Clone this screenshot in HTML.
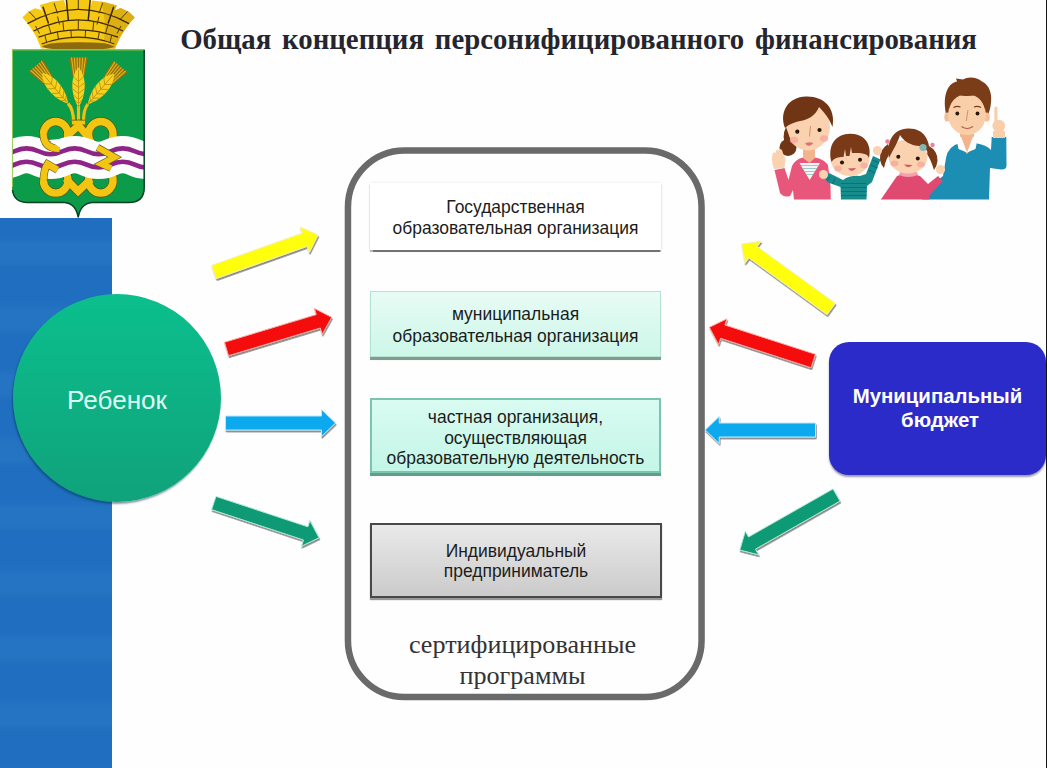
<!DOCTYPE html>
<html lang="ru">
<head>
<meta charset="utf-8">
<title>Общая концепция персонифицированного финансирования</title>
<style>
html,body{margin:0;padding:0;}
body{width:1047px;height:768px;position:relative;overflow:hidden;background:#fefefe;font-family:"Liberation Sans",sans-serif;}
.abs{position:absolute;}
#band{left:0;top:218px;width:112px;height:550px;background:repeating-linear-gradient(180deg,#1f6ebf 0,#1f6ebf 18px,#2573c3 26px,#2573c3 44px,#1f6ebf 52px,#1f6ebf 66px);}
#redge{left:1045.6px;top:0;width:1.4px;height:768px;background:#151515;}
#title{left:180.2px;top:21.6px;font-family:"Liberation Serif",serif;font-weight:bold;font-size:28.8px;word-spacing:3.6px;line-height:34px;color:#25252f;white-space:nowrap;}
#circle{left:13px;top:294px;width:208px;height:208px;border-radius:50%;background:linear-gradient(#0bbf8d,#10a27b);box-shadow:-1px 2px 2px rgba(0,60,80,.5);}
#circle span{position:absolute;left:0;right:0;top:90.7px;text-align:center;color:#ddfcf1;font-size:26.1px;line-height:30px;}
#big{left:0;top:0;}
.box{left:370px;width:291px;box-sizing:border-box;text-align:center;font-size:17.45px;line-height:20.5px;color:#1c1c1c;}
#b1{top:183px;height:66.8px;background:#fff;box-shadow:0 2.4px 1px rgba(70,70,70,.75), 0 0 3px rgba(0,0,0,.1);}
#b2{top:291px;height:66.4px;background:linear-gradient(#e7fbf5,#cdf7e8);border:1px solid #b3e3d1;box-shadow:0 3px .6px rgba(100,130,118,.8);}
#b3{top:398.2px;height:74.4px;background:linear-gradient(#d9fbf1,#c3f6e6);border:2px solid #7cc4b0;box-shadow:0 2.8px .6px rgba(70,140,120,.85);}
#b4{top:522.8px;height:75.4px;width:292px;background:linear-gradient(#e9e9e9,#cbcbcb);border:2px solid #484848;box-shadow:0 2px 1px rgba(0,0,0,.4);}
#cert{left:348px;top:630.4px;width:349px;text-align:center;font-family:"Liberation Serif",serif;font-size:26.1px;line-height:30.2px;color:#333;}
#budget{left:829px;top:342px;width:217px;height:133px;border-radius:20px;background:#2b2bc9;box-shadow:0 2px 2px rgba(0,0,60,.4);color:#fff;font-weight:bold;font-size:20.4px;line-height:24.2px;text-align:center;}
#budget span{position:absolute;left:0;right:0;top:42px;}
</style>
</head>
<body>
<div id="band" class="abs"></div>
<div id="redge" class="abs"></div>
<svg id="coat" class="abs" style="left:0;top:0" width="175" height="222" viewBox="0 0 175 222">
<defs>
<clipPath id="shc"><path d="M12,49.5H144.500V187Q144.500,202.500 129,202.500H92Q80.500,203.500 78.200,217.500Q76,203.500 64.500,202.500H27.500Q12,202.500 12,187Z"/></clipPath>
<g id="ear">
<path d="M-9.200,-62 L-6.200,-44 L6.200,-44 L9.200,-62 Z" fill="#96700f"/>
<path d="M-7,-62L-4.600,-44M-4.200,-62L-2.800,-44M-1.400,-62L-0.900,-44M1.400,-62L0.900,-44M4.200,-62L2.800,-44M7,-62L4.600,-44" stroke="#e2b71a" stroke-width="1.100" fill="none"/>
<path d="M0,-52C8,-44 8.500,-26 0,-12C-8.500,-26 -8,-44 0,-52Z" fill="#f7d21f"/>
<path d="M0,-50V-12M-5.500,-43L0,-38L5.500,-43M-6.400,-37L0,-32L6.400,-37M-6.400,-31L0,-26L6.400,-31M-5.400,-25L0,-20L5.400,-25M-3.600,-19.500L0,-16L3.600,-19.500" stroke="#c49512" stroke-width="0.900" fill="none"/>
</g>
</defs>
<!-- crown -->
<path d="M41.100,48.500 C38,40 34,30 22.400,17.400 L28,12 L35,8.200 L41,10 L42.800,14 L41.500,9.500 L39.800,5 L52,1.500 L64,0 L66,7 L66.500,-2 L89.500,-2 L90.500,7 L92,0.600 L104.500,2 L116.800,5.600 L115,10 L113.800,14 L116,10 L120.500,8 L129,12 L134.800,17.400 C123,30 118.500,40 115,48.500 Z" fill="#f5c813"/>
<path d="M101,1.600L116.800,5.600L115,10L116,10L120.500,8L129,12L134.800,17.400C123,30 118.500,40 115,48.500L102,48.500C106,36 106,18 101,1.600Z" fill="#dcb015"/>
<ellipse cx="78.200" cy="46.200" rx="36" ry="4" fill="#8d6a0e"/>
<path d="M41.700,44.800Q78.300,31.200 114.300,44.800" stroke="#eec015" stroke-width="2.600" fill="none"/>
<path d="M27.500,23.600Q78.300,-5 129,23.600M33.600,31Q78.300,8.800 123,31M38.600,37.200Q78.300,22.400 118,37.200M41.700,44Q78.300,30.400 114.300,44" stroke="#3f2a05" stroke-width="1.250" fill="none"/>
<path d="M42.900,6.800L48.500,23.600M113.700,6.800L108.100,23.600M66.400,0L68.400,20.500M90.200,0L88.200,20.500" stroke="#3a2604" stroke-width="1.500" fill="none"/>
<path d="M78.300,0V9.300M54,3L57.500,13.500M102.600,3L99,13.500M29,11.500L36,19M127.600,11.500L120.500,19M35.500,26L39.500,33.500M121,26L117,33.500M57.500,16.500L59.500,24.500M99,16.500L97,24.500M62.800,21L63.800,30.800M78.300,19.900V29.800M93.800,21L92.800,30.800M48.500,25L51,33.500M108,25L105.500,33.500M44.800,35L46.500,42M57.200,31.500L58.500,39M70.900,30L71.400,37.500M85.600,30L85.200,37.500M99.400,31.500L98,39M111.800,35L110,42" stroke="#553a08" stroke-width="1" fill="none"/>
<!-- shield -->
<path d="M12,49.500H144.500V187Q144.500,202.500 129,202.500H92Q80.500,203.500 78.200,217.500Q76,203.500 64.500,202.500H27.500Q12,202.500 12,187Z" fill="#0c9b48"/>
<g clip-path="url(#shc)">
<path d="M68,103.500Q73.600,109 73.600,123M88,104Q83.400,109 83.400,123M78.500,106V123" stroke="#efbf14" stroke-width="3.200" fill="none"/>
<use href="#ear" transform="translate(78.500,119.500)"/>
<use href="#ear" transform="translate(76,113) rotate(-40.300)"/>
<use href="#ear" transform="translate(80,113.500) rotate(40.600)"/>
<g fill="none" stroke="#4d5a16" stroke-width="8.800">
<ellipse cx="55.700" cy="134.500" rx="12.300" ry="13"/><ellipse cx="100.800" cy="134.500" rx="12.300" ry="13"/>
<ellipse cx="55.700" cy="180.300" rx="12.300" ry="12.800"/><ellipse cx="100.800" cy="180.300" rx="12.300" ry="12.800"/>
<path d="M66,137L78.500,125.500L89.500,138.500" stroke-linejoin="miter" stroke-miterlimit="2"/>
<path d="M72,122.500H85" stroke-width="5.400"/>
<path d="M65.500,178.500L78.100,191.300L91,179" stroke-linejoin="miter" stroke-miterlimit="6"/>
</g>
<g fill="none" stroke="#f4c413" stroke-width="7.400">
<ellipse cx="55.700" cy="134.500" rx="12.300" ry="13"/><ellipse cx="100.800" cy="134.500" rx="12.300" ry="13"/>
<ellipse cx="55.700" cy="180.300" rx="12.300" ry="12.800"/><ellipse cx="100.800" cy="180.300" rx="12.300" ry="12.800"/>
<path d="M66,137L78.500,125.500L89.500,138.500" stroke-linejoin="miter" stroke-miterlimit="2"/>
<path d="M72,122.500H85" stroke-width="4"/>
<path d="M65.500,178.500L78.100,191.300L91,179" stroke-linejoin="miter" stroke-miterlimit="6"/>
</g>
<g fill="none">
<path d="M-9.550,157.500Q2.500,163.300 14.500,157.500T38.550,157.500T62.600,157.500T86.650,157.500T110.700,157.500T134.750,157.500T158.800,157.500" stroke="#fdfdfd" stroke-width="37.200"/>
<path d="M-9.550,151.300Q2.500,157.100 14.500,151.300T38.550,151.300T62.600,151.300T86.650,151.300T110.700,151.300T134.750,151.300T158.800,151.300" stroke="#8f2488" stroke-width="4.600"/>
<path d="M-9.550,164.650Q2.500,170.450 14.500,164.650T38.550,164.650T62.600,164.650T86.650,164.650T110.700,164.650T134.750,164.650T158.800,164.650" stroke="#8f2488" stroke-width="4.600"/>
</g>
<g fill="none" stroke="#5a5a20" stroke-width="7.800">
<path d="M43.400,133 C43.400,143 48,148.500 59.500,148.800" />
<path d="M97.500,147.500L114.500,157.200L101.500,164L111,168.300" stroke-width="7.200"/>
<path d="M43.500,181 C43.500,174 44,169.500 47.500,164.200 L57.500,169.800" stroke-linejoin="miter"/>
</g>
<g fill="none" stroke="#f4c413" stroke-width="6.600">
<path d="M43.400,133 C43.400,143 48,148.500 59.500,148.800" />
<path d="M97.500,147.500L114.500,157.200L101.500,164L111,168.300" stroke-width="6"/>
<path d="M43.500,181 C43.500,174 44,169.500 47.500,164.200 L57.500,169.800" stroke-linejoin="miter"/>
</g>
<path d="M48.500,140L60,147.500L60,139Z" fill="#fdfdfd"/>
</g>
<path d="M12,49.800H144.500" stroke="#8cc63f" stroke-width="1.600" fill="none"/>
<path d="M12.400,49.500V187" stroke="#9aca5a" stroke-width="1" fill="none"/>
<path d="M144.200,50V187Q144.500,202.500 129,202.500H92Q80.500,203.500 78.200,217.500Q76,203.500 64.500,202.500H27.500Q14,202.500 12.500,190" stroke="#0a4023" stroke-width="1.500" fill="none"/>
</svg>
<svg id="family" class="abs" style="left:765px;top:70px" width="250" height="135" viewBox="765 70 250 135">
<defs><clipPath id="fc"><rect x="765" y="70" width="250" height="129.600"/></clipPath></defs>
<g clip-path="url(#fc)">
<!-- father -->
<path d="M922,200 L922.500,188 Q934,184 943,176 L946,158 Q948,146 960,143 L975,143 Q987,145 991,150 L991.700,137 L1006.300,137 L1006.500,166 Q1006,170 1001,169.500 L990,168 L989,200 Z" fill="#1c8db3"/>
<path d="M960,134 H974 V146 L967,154 L960,146 Z" fill="#f1b48c"/>
<path d="M956.500,139.500 L961,136.500 L967,152.500 L958.500,149 Z M977.500,139.500 L973,136.500 L967,152.500 L975.500,149 Z" fill="#fdfdfd"/>
<path d="M946.500,116 C942,97 947,83.500 957,81.500 L956,78.500 L963,79.500 C968,76 977,77 982,81.500 C991.500,86 994,99 988,116 Z" fill="#7b3d17"/>
<ellipse cx="947.300" cy="117" rx="3" ry="4.500" fill="#f3bf98"/><ellipse cx="986.800" cy="117" rx="3" ry="4.500" fill="#f3bf98"/>
<ellipse cx="967" cy="114.500" rx="19" ry="20.600" fill="#f8cfa9"/>
<path d="M948.300,113 C948.300,101 952,95 958,92.500 L976,92.500 C982,95 985.700,101 985.700,113 C984.500,105 981,99 976.500,95.300 C970,96.300 963,96.300 958,95 C953,98 949.800,104 948.300,113 Z" fill="#7b3d17"/>
<circle cx="957.300" cy="113.500" r="1.900" fill="#2a1608"/><circle cx="977.500" cy="113.500" r="1.900" fill="#2a1608"/>
<path d="M953.500,107.500Q957,105.500 960.500,107M974,107Q977.500,105.500 981,107.500" stroke="#7b3d17" stroke-width="1.100" fill="none"/>
<path d="M968,110 L966.300,121" stroke="#c98a62" stroke-width="0.900" fill="none"/>
<path d="M961.500,126.500 Q967,130.500 973,126.500" stroke="#b8583c" stroke-width="1.100" fill="none"/>
<circle cx="998.800" cy="126" r="6.300" fill="#f8cfa9"/><rect x="994.300" y="106.500" width="3.200" height="16" rx="1.600" fill="#f8cfa9"/>
<rect x="993" y="131" width="12" height="7" fill="#f8cfa9"/>
<!-- girl -->
<path d="M880.500,200 L897,176 Q908,171 920,176 L928,184 L938,176 L943,181 L929,196 L929.500,200 Z" fill="#e04a70"/>
<path d="M899,175 Q908,179 918,175 L917,172 H900 Z" fill="#f5a0b0"/>
<path d="M888,144 Q879,150 880,160 Q881,165 884,168 Q886,158 891,152 Z M929,146 Q938,151 937.500,161 Q937,166 934,170 Q931,160 927,154 Z" fill="#7a3a18"/>
<ellipse cx="908" cy="156.500" rx="19.500" ry="17" fill="#fad2b0"/>
<path d="M889,158 C886,142 893,129 908,128.500 C924,128 931,140 929.500,158 C928,150 925,147 920,146 C910,146 903,140 900,135 C898,142 893,150 889,158 Z" fill="#7a3a18"/>
<circle cx="898.300" cy="156.800" r="2" fill="#2a1608"/><circle cx="917.800" cy="158.500" r="2" fill="#2a1608"/>
<ellipse cx="894.500" cy="163.500" rx="4" ry="3" fill="#f6a9a0" opacity=".8"/><ellipse cx="921" cy="164.500" rx="4" ry="3" fill="#f6a9a0" opacity=".8"/>
<path d="M904,164.500 Q908,169.500 912.500,165 Z" fill="#d8566a"/>
<circle cx="923" cy="147.500" r="3.600" fill="#7fb7b5"/>
<circle cx="940.500" cy="169.500" r="4.600" fill="#fad2b0"/>
<circle cx="887.500" cy="141.500" r="2.200" fill="#ee7f9a"/><circle cx="932.500" cy="145" r="2.200" fill="#ee7f9a"/>
<!-- mother -->
<path d="M794,200 L793,190 L790,196 Q784,198 780,193 L774.500,170 L784.500,168 L788.500,180 L792,166 Q796,158.500 803,157.500 L815,157.500 Q824,159 828,165 L830.500,186 L830.800,200 Z" fill="#e8567b"/>
<path d="M799.500,163 H820 L809.700,180 Z" fill="#f4f6f6"/>
<path d="M801,165.500H818.500M802.500,168.500H817M804.500,171.500H815M806.500,174.500H813" stroke="#9fc9c6" stroke-width="1.100" fill="none"/>
<path d="M803,148 H815 V158 L809.500,163 L803,158 Z" fill="#f1b48c"/>
<circle cx="788" cy="147.500" r="8.500" fill="#6f3514"/>
<ellipse cx="808" cy="127" rx="22" ry="23.500" fill="#fad2b0"/>
<path d="M785,128 C779,112 788,97 806,96.500 C824,96 836,108 832.500,127 C829,118 824,112 819,107 C816,115 808,120 800,121 C795,122 789,124 785,128 Z" fill="#6f3514"/>
<path d="M786,127Q781,137 786.500,146L791,141Z" fill="#6f3514"/>
<circle cx="797.300" cy="131.700" r="2.100" fill="#2a1608"/><circle cx="819.500" cy="130" r="2.100" fill="#2a1608"/>
<ellipse cx="794" cy="140" rx="4.200" ry="3.200" fill="#f6a9a0" opacity=".8"/><ellipse cx="824" cy="138.500" rx="4.200" ry="3.200" fill="#f6a9a0" opacity=".8"/>
<path d="M810.500,126 L809.500,136.500" stroke="#c98a62" stroke-width="0.900" fill="none"/>
<path d="M805,143.500 Q809,148.500 813.500,143 Q809,141.500 805,143.500 Z" fill="#e0707a"/>
<path d="M774.500,169 C771,163 772,156 773,152.500 L775.500,153 L776,150 L778.500,150.500 L779.500,148.500 L782,150 L783.500,155 L785.500,158.500 L784.500,168 Z" fill="#fad2b0"/>
<!-- boy -->
<path d="M841,200 L840.500,187 L828,182.500 L824.500,177.500 L829,173 L843,180 Q850,175 860,176 L866,174 L873,156 L880.500,159.500 L872,182 L867,186 L866.500,200 Z" fill="#178c8d"/>
<path d="M841,183.500H866M841,187.500H866.500M841,191.500H866.500M841,195.500H866.500M868.500,170L875,173M870.500,165L877.500,168M872.500,160L879,163M830,176.500L827,181M835,178.500L832.500,184" stroke="#0f6f74" stroke-width="1.100" fill="none"/>
<ellipse cx="850" cy="158.500" rx="19.500" ry="17.500" fill="#fad2b0"/>
<path d="M831.500,162 C827,145 836,134 850,133.800 C865,133.500 872,145 869,158 C867,153 862,153 852,153 L851,147 L849.500,156 L846,156 L845,149 L843.500,157 C838,157 834,158 831.500,162 Z" fill="#7a3a18"/>
<circle cx="842" cy="162.500" r="2" fill="#2a1608"/><circle cx="860" cy="159.800" r="2" fill="#2a1608"/>
<ellipse cx="838" cy="168.500" rx="3.800" ry="3" fill="#f6a9a0" opacity=".8"/><ellipse cx="864" cy="165.500" rx="3.800" ry="3" fill="#f6a9a0" opacity=".8"/>
<path d="M848,168.500 Q852,173.500 856,168 Z" fill="#d8566a"/>
<circle cx="877.500" cy="150.500" r="4.500" fill="#fad2b0"/><circle cx="823.500" cy="174.500" r="4.500" fill="#fad2b0"/>
</g>
</svg>
<div id="title" class="abs">Общая концепция персонифицированного финансирования</div>
<svg id="big" class="abs" width="1047" height="768" viewBox="0 0 1047 768"><rect x="347.95" y="150.45" width="353.6" height="546.6" rx="56.5" ry="56.5" fill="#fefefe" stroke="#6a6a6a" stroke-width="6.5"/></svg>
<div id="b1" class="abs box"><div style="padding-top:14px;line-height:20.6px">Государственная<br>образовательная организация</div></div>
<div id="b2" class="abs box"><div style="padding-top:10.9px;line-height:22px">муниципальная<br>образовательная организация</div></div>
<div id="b3" class="abs box"><div style="padding-top:7.1px;line-height:20.3px">частная организация,<br>осуществляющая<br>образовательную деятельность</div></div>
<div id="b4" class="abs box"><div style="padding-top:16.4px;line-height:20px">Индивидуальный<br>предприниматель</div></div>
<div id="cert" class="abs">сертифицированные<br>программы</div>
<div id="circle" class="abs"><span>Ребенок</span></div>
<div id="budget" class="abs"><span>Муниципальный<br><i style="font-style:normal;padding-left:5px">бюджет</i></span></div>
<svg id="arrows" class="abs" style="left:0;top:0" width="1047" height="768" viewBox="0 0 1047 768">
<defs><filter id="sh" x="-20%" y="-20%" width="140%" height="140%"><feDropShadow dx="0.7" dy="1.8" stdDeviation="0.6" flood-color="#202020" flood-opacity="0.55"/></filter></defs>
<polygon points="216.3,278.6 307.2,246.3 309.3,252.4 318.0,235.0 300.3,227.0 302.5,233.1 211.7,265.4" fill="#ffff0c" stroke="#f4f0b0" stroke-width="1" filter="url(#sh)"/>
<polygon points="228.5,355.7 320.3,328.0 322.2,334.3 331.7,317.3 314.4,308.4 316.3,314.6 224.5,342.3" fill="#f50808" stroke="#f8b0a8" stroke-width="1" filter="url(#sh)"/>
<polygon points="225.5,430.0 321.5,430.0 321.5,436.5 335.5,423.0 321.5,409.5 321.5,416.0 225.5,416.0" fill="#10a9ee" stroke="#b8e8f8" stroke-width="1" filter="url(#sh)"/>
<polygon points="211.6,509.6 303.5,540.0 301.5,546.2 319.0,537.8 309.9,520.6 307.9,526.8 216.0,496.4" fill="#109a74" stroke="#b0e8d8" stroke-width="1" filter="url(#sh)"/>
<polygon points="835.3,303.3 757.1,246.6 761.0,241.3 741.7,244.0 745.1,263.2 748.9,257.9 827.1,314.7" fill="#ffff0c" stroke="#f4f0b0" stroke-width="1" filter="url(#sh)"/>
<polygon points="815.4,354.3 724.9,325.0 726.9,318.8 709.4,327.3 718.5,344.5 720.6,338.3 811.0,367.7" fill="#f50808" stroke="#f8b0a8" stroke-width="1" filter="url(#sh)"/>
<polygon points="815.5,423.0 719.2,423.0 719.2,416.5 705.2,430.0 719.2,443.5 719.2,437.0 815.5,437.0" fill="#10a9ee" stroke="#b8e8f8" stroke-width="1" filter="url(#sh)"/>
<polygon points="833.0,488.9 748.5,537.0 745.3,531.3 739.8,550.0 758.6,554.8 755.4,549.2 840.0,501.1" fill="#109a74" stroke="#b0e8d8" stroke-width="1" filter="url(#sh)"/>
</svg>
</body>
</html>
